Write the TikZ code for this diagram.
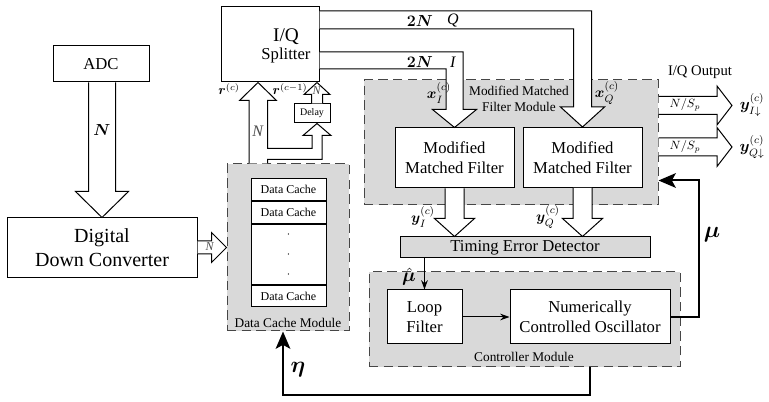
\documentclass[tikz,border=0pt]{standalone}
\usepackage{amsmath}
\usepackage{bm}
\usepackage{fontspec}
\setmainfont{Liberation Serif}
\usetikzlibrary{arrows.meta,calc,positioning}
\definecolor{modgray}{RGB}{217,217,217}
\definecolor{dashgray}{RGB}{70,70,70}
\tikzset{every picture/.style={line width=0.75pt}}
\tikzset{
 block/.style={draw, fill=white, inner sep=0pt, align=center},
 module/.style={draw=dashgray, fill=modgray, dash pattern=on 7pt off 4pt, inner sep=0pt},
 cache/.style={draw, fill=white, inner sep=0pt, minimum width=56.25pt, minimum height=16.5pt, font=\fontsize{9}{10}\selectfont},
 fatarrow/.style={draw, fill=white, line join=miter},
 thinarrow/.style={-{Stealth[length=7pt,width=5pt]}},
 fbarrow/.style={line width=1.5pt, -{Stealth[length=13pt,width=11pt,inset=3pt]}},
 bigtxt/.style={font=\fontsize{15}{18}\selectfont},
 midtxt/.style={font=\fontsize{12.5}{15}\selectfont},
 modlbl/.style={inner sep=0pt, align=center, font=\fontsize{10}{12}\selectfont},
 lbl/.style={inner sep=0pt}
}
% fat arrows: start, end, shaft half width, head half width, head length
\newcommand{\fatdown}[5]{\filldraw[fatarrow] ($(#1 -| #2)+(-#3,0)$) -- ($(#2)+(-#3,-#5)$) -- ($(#2)+(-#4,-#5)$) -- (#2) -- ($(#2)+(#4,-#5)$) -- ($(#2)+(#3,-#5)$) -- ($(#1 -| #2)+(#3,0)$);}
\newcommand{\fatup}[5]{\filldraw[fatarrow] ($(#1 -| #2)+(-#3,0)$) -- ($(#2)+(-#3,#5)$) -- ($(#2)+(-#4,#5)$) -- (#2) -- ($(#2)+(#4,#5)$) -- ($(#2)+(#3,#5)$) -- ($(#1 -| #2)+(#3,0)$);}
\newcommand{\fatright}[5]{\filldraw[fatarrow] ($(#1 |- #2)+(0,-#3)$) -- ($(#2)+(-#5,-#3)$) -- ($(#2)+(-#5,-#4)$) -- (#2) -- ($(#2)+(-#5,#4)$) -- ($(#2)+(-#5,#3)$) -- ($(#1 |- #2)+(0,#3)$);}
\newcommand{\fatLdown}[5]{\filldraw[fatarrow] ($(#1)+(0,-#3)$) -- ($(#1 -| #2)+(#3,-#3)$) -- ($(#2)+(#3,-#5)$) -- ($(#2)+(#4,-#5)$) -- (#2) -- ($(#2)+(-#4,-#5)$) -- ($(#2)+(-#3,-#5)$) -- ($(#1 -| #2)+(-#3,#3)$) -- ($(#1)+(0,#3)$);}

\begin{document}
\begin{tikzpicture}[x=0.75pt,y=0.75pt,yscale=-1]
\useasboundingbox (0,0) rectangle (769,402);

% Modules
\node[module, minimum width=91.5pt, minimum height=125.25pt] (dcm) at (288,247.5) {};
\node[module, minimum width=220.5pt, minimum height=93.75pt] (mmfm) at (511,142.5) {};
\node[module, minimum width=233.25pt, minimum height=71.25pt] (ctrl) at (524.5,319.5) {};
\node[modlbl] (dcmlbl) at (288,323) {Data Cache Module};
\node[modlbl] (mmflbl) at (519,99) {Modified Matched\\Filter Module};
\node[modlbl] (ctrllbl) at (524,357) {Controller Module};

% Blocks
\node[block, midtxt, minimum width=72pt, minimum height=27pt] (adc) at (101,64) {ADC};
\node[block, bigtxt, minimum width=142.5pt, minimum height=45pt] (ddc) at (102,248) {Digital\\Down Converter};
\node[block, minimum width=73.5pt, minimum height=56.25pt] (split) at (270,44.5) {};
\node[lbl, align=center] (splittxt) at (286,46) {{\fontsize{14.5}{16}\selectfont I/Q}\\[1pt]{\fontsize{12.5}{15}\selectfont Splitter}};
\node[block, minimum width=27pt, minimum height=14.25pt, font=\fontsize{7.5}{9}\selectfont] (delay) at (312,113.5) {Delay};

% Data cache stack
\node[cache] (c1) at (288.5,189.5) {Data Cache};
\node[cache, below=0pt of c1] (c2) {Data Cache};
\node[cache, below=0pt of c2, minimum height=45pt, align=center] (cdots) {$\cdot$\\[5pt]$\cdot$\\[5pt]$\cdot$};
\node[cache, below=0pt of cdots, minimum height=15.75pt] (c3) {Data Cache};

\node[block, midtxt, minimum width=89.25pt, minimum height=45pt] (mmfI) at (454.5,158) {Modified\\Matched Filter};
\node[block, midtxt, minimum width=89.25pt, minimum height=45pt] (mmfQ) at (582.5,157.5) {Modified\\Matched Filter};
\node[block, midtxt, fill=modgray, minimum width=187.5pt, minimum height=15.75pt] (ted) at (525,247.5) {Timing Error Detector};
\node[block, midtxt, minimum width=56.25pt, minimum height=40.5pt] (lf) at (424.5,317) {Loop\\Filter};
\node[block, midtxt, minimum width=120pt, minimum height=40.5pt] (nco) at (590,317) {Numerically\\Controlled Oscillator};

% Fat arrows
\fatdown{adc.south}{ddc.north}{13.5}{26.5}{26}
\fatright{ddc.east}{dcm.west}{6.5}{15}{15}

\coordinate (rtip) at ($(split.south west)+(37.5,0)$);
\coordinate (dtip) at ($(delay.south)+(5,0)$);
\filldraw[fatarrow] ($(rtip |- dcm.north)+(-9,0)$) -- ($(rtip)+(-9,18)$) -- ($(rtip)+(-18.5,18)$) -- (rtip)
  -- ($(rtip)+(18.5,18)$) -- ($(rtip)+(9.5,18)$) -- ($(rtip)+(9.5,66)$) -- ($(dtip)+(-5,25)$)
  -- ($(dtip)+(-5,12)$) -- ($(dtip)+(-14,12)$) -- (dtip) -- ($(dtip)+(14,12)$) -- ($(dtip)+(5,12)$)
  -- ($(dtip)+(5,36)$) -- ($(rtip)+(9.5,77)$) -- ($(rtip |- dcm.north)+(9.5,0)$);
\coordinate (dtop) at ($(delay.north)+(5,0)$);
\coordinate (dsp) at (dtop |- split.south);
\fatup{dtop}{dsp}{5.5}{13}{12}

\coordinate (sI) at ($(split.east)+(0,16)$);
\coordinate (sQ) at ($(split.east)+(0,-24.5)$);
\fatLdown{sI}{mmfI.north}{8.5}{22}{18}
\fatLdown{sQ}{mmfQ.north}{9}{22}{20}

\coordinate (tedI) at (ted.north -| mmfI.south);
\coordinate (tedQ) at (ted.north -| mmfQ.south);
\fatdown{mmfI.south}{tedI}{9.5}{20}{18}
\fatdown{mmfQ.south}{tedQ}{9.5}{20}{18}

\coordinate (outI) at (732,105.5);
\coordinate (outQ) at (732,147);
\fatright{mmfm.east}{outI}{9}{19.5}{15}
\fatright{mmfm.east}{outQ}{9}{19.5}{15}

% Thin and feedback arrows
\draw[thinarrow] (ted.south -| lf.north) -- (lf.north);
\draw[thinarrow] (lf.east) -- (nco.west);
\coordinate (muin) at ($(mmfm.south east)+(0,-25)$);
\draw[fbarrow] (nco.east) -- ++(28,0) |- (muin);
\coordinate (etaout) at ($(ctrl.south)+(65.5,0)$);
\coordinate (etain) at ($(dcm.south)+(-5,0)$);
\draw[fbarrow] (etaout) -- ++(0,28) -| (etain);

% Labels
\node[lbl, font=\fontsize{13}{15}\selectfont] (lblN) at (102,130) {$\bm{N}$};
\node[lbl, font=\fontsize{9}{10}\selectfont, text=black!70] (lblNd) at (210,247) {\textit{N}};
\node[lbl, font=\fontsize{10}{12}\selectfont] (lblrc) at (229,89) {$\bm{r}^{(c)}$};
\node[lbl, font=\fontsize{10}{12}\selectfont] (lblrc1) at (290,89) {$\bm{r}^{(c-1)}$};
\node[lbl, font=\fontsize{12}{14}\selectfont, text=black!70] (lblNr) at (258,131) {\textit{N}};
\node[lbl, font=\fontsize{9}{10}\selectfont, text=black!70] (lblNdl) at (317,91) {\textit{N}};
\node[lbl, font=\fontsize{12}{14}\selectfont] (lbl2NQ) at (420,21) {$\bm{2N}$};
\node[lbl, font=\fontsize{12}{14}\selectfont] (lblQ) at (453,21) {\textit{Q}};
\node[lbl, font=\fontsize{12}{14}\selectfont] (lbl2NI) at (420,62) {$\bm{2N}$};
\node[lbl, font=\fontsize{12}{14}\selectfont] (lblI) at (453,62) {\textit{I}};
\node[lbl, font=\fontsize{11}{13}\selectfont] (lblxI) at (439,93) {$\bm{x}_I^{(c)}$};
\node[lbl, font=\fontsize{11}{13}\selectfont] (lblxQ) at (607,93) {$\bm{x}_Q^{(c)}$};
\node[lbl, font=\fontsize{11}{13}\selectfont] (lblyI) at (423,217) {$\bm{y}_I^{(c)}$};
\node[lbl, font=\fontsize{11}{13}\selectfont] (lblyQ) at (548,217) {$\bm{y}_Q^{(c)}$};
\node[lbl, font=\fontsize{14}{16}\selectfont] (lblmuh) at (409,277) {$\hat{\bm{\mu}}$};
\node[lbl, font=\fontsize{18}{20}\selectfont] (lblmu) at (712,235) {$\bm{\mu}$};
\node[lbl, font=\fontsize{17}{19}\selectfont] (lbleta) at (298,370) {$\bm{\eta}$};
\node[lbl, font=\fontsize{11}{13}\selectfont] (lblout) at (700,72) {I/Q Output};
\node[lbl, font=\fontsize{9}{10}\selectfont] (lblNS1) at (685,105) {$N/S_p$};
\node[lbl, font=\fontsize{9}{10}\selectfont] (lblNS2) at (685,147) {$N/S_p$};
\node[lbl, font=\fontsize{12}{14}\selectfont] (lblyId) at (752,105) {$\bm{y}_{I\downarrow}^{(c)}$};
\node[lbl, font=\fontsize{12}{14}\selectfont] (lblyQd) at (752,147) {$\bm{y}_{Q\downarrow}^{(c)}$};

\end{tikzpicture}
\end{document}
